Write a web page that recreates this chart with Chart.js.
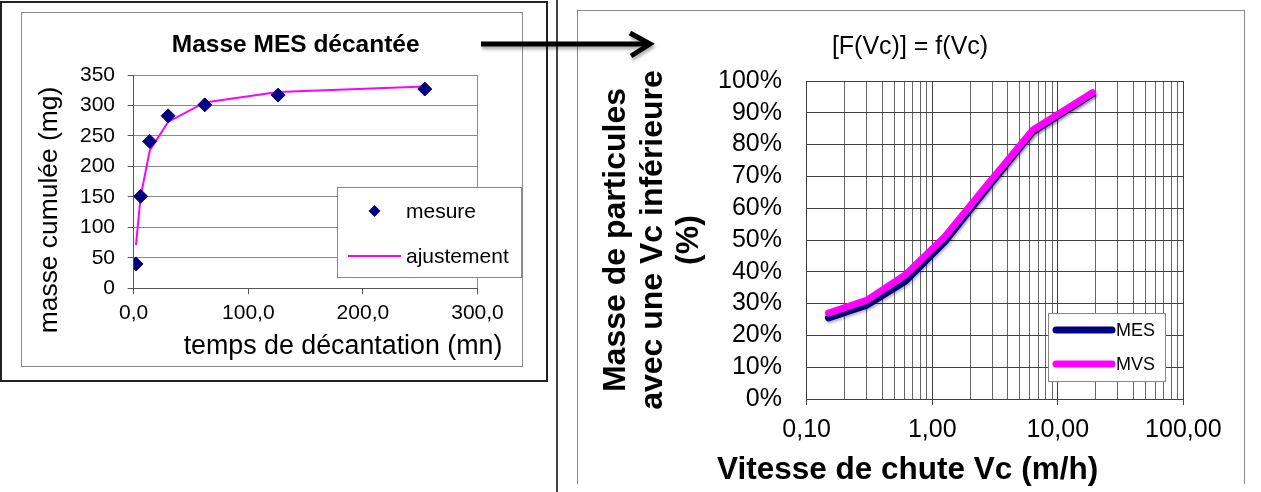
<!DOCTYPE html>
<html>
<head>
<meta charset="utf-8">
<script src="https://cdn.jsdelivr.net/npm/chart.js@4.4.1/dist/chart.umd.min.js"></script>
<style>
  * { box-sizing: border-box; }
  body { margin: 0; width: 1261px; height: 492px; overflow: hidden; position: relative; background: #fff; }
  .abs { position: absolute; }
  #cadreExt { left: 0; top: 1px; width: 548px; height: 381px; border: 2px solid #222; }
  #cadreInt { left: 21px; top: 12px; width: 502px; height: 355px; border: 1px solid #8a8a8a; }
  #separation { left: 556px; top: 0; width: 2px; height: 492px; background: #444; }
  #cadreDroit { left: 577px; top: 10px; width: 668px; height: 474px; border: 1px solid #888; border-bottom: none; }
  #gauche { left: 0; top: 0; }
  #droite { left: 560px; top: 0; }
  #fleche { left: 0; top: 0; pointer-events: none; }
</style>
</head>
<body>
<div class="abs" id="cadreExt"></div>
<div class="abs" id="cadreInt"></div>
<div class="abs" id="separation"></div>
<div class="abs" id="cadreDroit"></div>
<canvas class="abs" id="gauche" width="548" height="382"></canvas>
<canvas class="abs" id="droite" width="701" height="492"></canvas>
<svg class="abs" id="fleche" width="1261" height="492">
  <defs><filter id="ombre" x="-10%" y="-50%" width="120%" height="200%"><feDropShadow dx="1" dy="3" stdDeviation="1.5" flood-opacity="0.3"/></filter></defs>
  <g filter="url(#ombre)" stroke="#000" stroke-width="5" fill="none">
    <line x1="481" y1="44" x2="648" y2="44"/>
    <polyline points="630,33 650,44 631,56"/>
  </g>
</svg>
<script>
const tempsMin = [2, 6, 14, 30, 62, 126, 254];
const masseMesure = [40, 151, 241, 283, 301, 317, 327];
const masseAjustement = [71, 150, 226, 273, 305, 322, 331];
const graduationsTemps = [0, 100, 200, 300];
const graduationsMasse = [0, 50, 100, 150, 200, 250, 300, 350];

const vitesseVc = [0.149, 0.30, 0.61, 1.26, 2.7, 6.3, 18.9];
const partMES = [25.5, 29.5, 37, 49.5, 66, 84, 96];
const partMVS = [27, 31, 39, 51, 67, 84.5, 96.3];
const decadesVc = [0.1, 1, 10, 100];
const graduationsPct = [0, 10, 20, 30, 40, 50, 60, 70, 80, 90, 100];

const bleu = '#000080';
const magenta = '#FF00FF';
const police = "'Liberation Sans', Arial, sans-serif";

Chart.defaults.font.family = police;
Chart.defaults.color = '#000';

const enPoints = (xs, ys) => xs.map((x, i) => ({ x: x, y: ys[i] }));
const virgule = (v, d) => v.toFixed(d).replace('.', ',');

// textes posés librement (titres hors centre comme dans Excel)
function textesLibres(items) {
    return {
        id: 'textesLibres',
        afterDraw(chart) {
            const ctx = chart.ctx;
            items.forEach(t => {
                ctx.save();
                ctx.translate(t.x, t.y);
                if (t.rot) ctx.rotate(t.rot);
                ctx.font = t.font;
                ctx.fillStyle = '#000';
                ctx.textAlign = 'center';
                ctx.textBaseline = 'middle';
                ctx.fillText(t.text, 0, 0);
                ctx.restore();
            });
        }
    };
}

// légende encadrée dans la zone de tracé
function legendeEncadree(cfg) {
    return {
        id: 'legendeEncadree',
        afterDraw(chart) {
            const ctx = chart.ctx;
            ctx.save();
            ctx.fillStyle = '#fff';
            ctx.fillRect(cfg.x, cfg.y, cfg.w, cfg.h);
            ctx.strokeStyle = '#888';
            ctx.lineWidth = 1;
            ctx.strokeRect(cfg.x + 0.5, cfg.y + 0.5, cfg.w - 1, cfg.h - 1);
            chart.data.datasets.forEach((ds, i) => {
                const y = cfg.y + cfg.lignes[i];
                if (ds.showLine === false) {
                    const cx = (cfg.x1 + cfg.x2) / 2, r = cfg.rayon;
                    ctx.beginPath();
                    ctx.moveTo(cx - r, y); ctx.lineTo(cx, y - r);
                    ctx.lineTo(cx + r, y); ctx.lineTo(cx, y + r);
                    ctx.closePath();
                    ctx.fillStyle = ds.backgroundColor;
                    ctx.fill();
                } else {
                    ctx.beginPath();
                    ctx.moveTo(cfg.x1, y);
                    ctx.lineTo(cfg.x2, y);
                    ctx.strokeStyle = ds.borderColor;
                    ctx.lineWidth = cfg.epaisseur || ds.borderWidth;
                    ctx.lineCap = ds.borderCapStyle || 'butt';
                    ctx.stroke();
                }
                ctx.fillStyle = '#000';
                ctx.font = cfg.font;
                ctx.textAlign = 'left';
                ctx.textBaseline = 'middle';
                ctx.fillText(ds.label, cfg.xTexte, y + 1);
            });
            ctx.restore();
        }
    };
}

// ombre légère sous les courbes
const ombreCourbes = {
    id: 'ombreCourbes',
    beforeDatasetsDraw(chart) {
        const ctx = chart.ctx;
        ctx.save();
        ctx.shadowColor = 'rgba(0,0,0,0.3)';
        ctx.shadowBlur = 3;
        ctx.shadowOffsetX = 1;
        ctx.shadowOffsetY = 2;
    },
    afterDatasetsDraw(chart) {
        chart.ctx.restore();
    }
};

// ---- graphique de gauche : masse MES décantée ----
new Chart(document.getElementById('gauche'), {
    type: 'scatter',
    data: {
        datasets: [
            {
                label: 'mesure',
                data: enPoints(tempsMin, masseMesure),
                showLine: false,
                pointStyle: 'rectRot',
                pointRadius: 7,
                backgroundColor: bleu,
                borderColor: bleu,
                borderWidth: 1
            },
            {
                label: 'ajustement',
                data: enPoints(tempsMin, masseAjustement),
                showLine: true,
                borderColor: magenta,
                backgroundColor: magenta,
                borderWidth: 2,
                pointRadius: 0,
                tension: 0
            }
        ]
    },
    options: {
        responsive: false,
        animation: false,
        layout: { padding: { left: 0, top: 75, right: 70.5, bottom: 0 } },
        scales: {
            x: {
                type: 'linear',
                min: 0,
                max: 300,
                afterBuildTicks: s => { s.ticks = graduationsTemps.map(v => ({ value: v })); },
                afterFit: s => { s.height = 93.7; },
                ticks: { autoSkip: false, font: { size: 21 }, padding: 6, maxRotation: 0, callback: v => virgule(v, 1) },
                grid: {
                    color: c => (c.tick && c.tick.value === 300 ? '#8a8a8a' : 'transparent'),
                    tickColor: '#555',
                    tickLength: 6
                },
                border: { color: '#555' }
            },
            y: {
                min: 0,
                max: 350,
                afterBuildTicks: s => { s.ticks = graduationsMasse.map(v => ({ value: v })); },
                afterFit: s => { s.width = 133.7; },
                ticks: { autoSkip: false, font: { size: 21 }, padding: 12.7 },
                grid: { color: '#8a8a8a', tickColor: '#555', tickLength: 6 },
                border: { color: '#555' }
            }
        },
        plugins: {
            legend: { display: false },
            tooltip: { enabled: false }
        }
    },
    plugins: [
        textesLibres([
            { text: 'Masse MES décantée', x: 295.7, y: 45, font: "bold 24.5px " + police },
            { text: 'masse cumulée (mg)', x: 50, y: 210, rot: -Math.PI / 2, font: "26.4px " + police },
            { text: 'temps de décantation (mn)', x: 343, y: 347, font: "26.8px " + police }
        ]),
        legendeEncadree({
            x: 337, y: 187, w: 185, h: 91,
            lignes: [24, 69],
            x1: 348, x2: 401, xTexte: 406, rayon: 6,
            font: "21px " + police
        })
    ]
});

// ---- graphique de droite : [F(Vc)] = f(Vc) ----
new Chart(document.getElementById('droite'), {
    type: 'line',
    data: {
        datasets: [
            {
                label: 'MES',
                data: enPoints(vitesseVc, partMES),
                borderColor: bleu,
                backgroundColor: bleu,
                borderWidth: 7,
                borderCapStyle: 'round',
                borderJoinStyle: 'round',
                pointRadius: 0,
                tension: 0,
                order: 2
            },
            {
                label: 'MVS',
                data: enPoints(vitesseVc, partMVS),
                borderColor: magenta,
                backgroundColor: magenta,
                borderWidth: 7,
                borderCapStyle: 'round',
                borderJoinStyle: 'round',
                pointRadius: 0,
                tension: 0,
                order: 1
            }
        ]
    },
    options: {
        responsive: false,
        animation: false,
        layout: { padding: { left: 0, top: 81, right: 77.7, bottom: 0 } },
        scales: {
            x: {
                type: 'logarithmic',
                min: 0.1,
                max: 100,
                afterBuildTicks: s => {
                    const t = [];
                    decadesVc.forEach((d, i) => {
                        if (i === decadesVc.length - 1) { t.push({ value: d, major: true }); return; }
                        for (let m = 1; m <= 9; m++) t.push({ value: +(d * m).toPrecision(3), major: m === 1 });
                    });
                    s.ticks = t;
                },
                afterFit: s => { s.height = 93; },
                ticks: {
                    autoSkip: false,
                    maxRotation: 0,
                    font: { size: 25 },
                    padding: 10,
                    callback: v => (decadesVc.includes(v) ? virgule(v, 2) : '')
                },
                grid: {
                    color: c => (c.tick && c.tick.major ? '#404040' : '#666'),
                    tickColor: c => (c.tick && c.tick.major ? '#404040' : 'transparent'),
                    tickLength: 6
                },
                border: { color: '#404040' }
            },
            y: {
                min: 0,
                max: 100,
                afterBuildTicks: s => { s.ticks = graduationsPct.map(v => ({ value: v })); },
                afterFit: s => { s.width = 246.7; },
                ticks: { autoSkip: false, font: { size: 25 }, padding: 24.7, callback: v => v + '%' },
                grid: { color: '#404040', drawTicks: false },
                border: { color: '#404040' },
                title: {
                    display: true,
                    text: ['Masse de particules', 'avec une Vc inférieure', '(%)'],
                    font: { size: 32, weight: 'bold', lineHeight: 1.15 },
                    padding: { top: 37.6, bottom: 0 },
                    color: '#000'
                }
            }
        },
        plugins: {
            legend: { display: false },
            tooltip: { enabled: false }
        }
    },
    plugins: [
        ombreCourbes,
        textesLibres([
            { text: '[F(Vc)] = f(Vc)', x: 350, y: 46.7, font: "25px " + police },
            { text: 'Vitesse de chute Vc (m/h)', x: 347.6, y: 470, font: "bold 31.5px " + police }
        ]),
        legendeEncadree({
            x: 488, y: 313, w: 118, h: 69,
            lignes: [17, 51],
            x1: 496, x2: 552, xTexte: 556, epaisseur: 7,
            font: "18px " + police
        })
    ]
});
</script>
</body>
</html>
